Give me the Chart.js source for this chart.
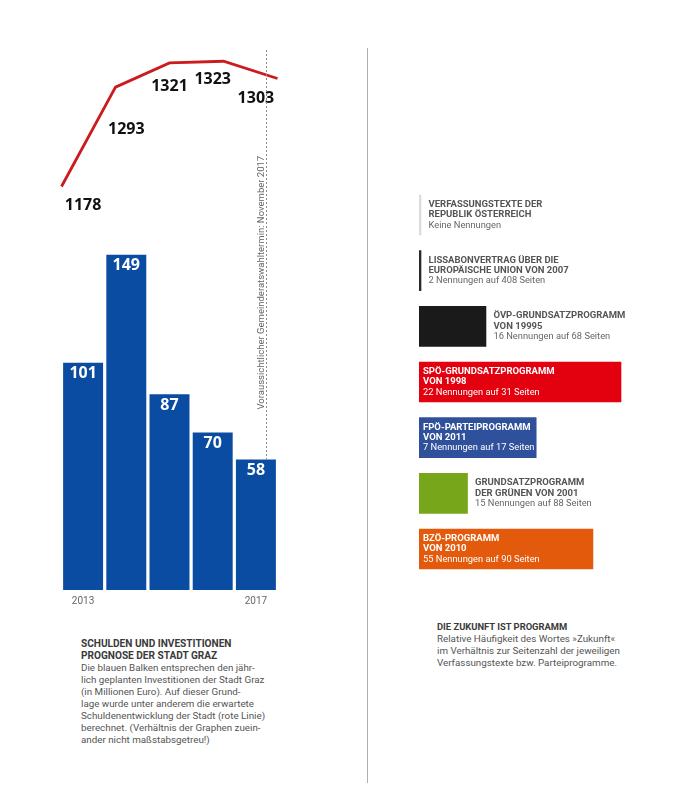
<!DOCTYPE html>
<html>
<head>
<meta charset="utf-8">
<script src="https://cdn.jsdelivr.net/npm/chart.js@4"></script>
<style>
    body { margin: 0; background: #fff; width: 678px; height: 800px; position: relative; overflow: hidden; font-family: Roboto, "Liberation Sans", sans-serif; }
    canvas { position: absolute; }
    .caption { position: absolute; font-size: 9.8px; line-height: 12px; color: #555; }
    .caption b { color: #3a3a3a; }
    .divider { position: absolute; left: 366.5px; top: 48px; width: 1.5px; height: 735px; background: #b0b0b0; }
</style>
</head>
<body>
<canvas id="left" width="340" height="620" style="left:0;top:0"></canvas>
<div class="divider"></div>
<canvas id="right" width="278" height="410" style="left:400px;top:180px"></canvas>

<div class="caption" style="left:81px;top:638px">
    <b style="font-size:10.1px">SCHULDEN UND INVESTITIONEN<br>PROGNOSE DER STADT GRAZ</b><br>
    Die blauen Balken entsprechen den jähr-<br>
    lich geplanten Investitionen der Stadt Graz<br>
    (in Millionen Euro). Auf dieser Grund-<br>
    lage wurde unter anderem die erwartete<br>
    Schuldenentwicklung der Stadt (rote Linie)<br>
    berechnet. (Verhältnis der Graphen zuein-<br>
    ander nicht maßstabsgetreu!)
</div>
<div class="caption" style="left:437px;top:621px">
    <b style="font-size:9.4px">DIE ZUKUNFT IST PROGRAMM</b><br>
    Relative Häufigkeit des Wortes »Zukunft«<br>
    im Verhältnis zur Seitenzahl der jeweiligen<br>
    Verfassungstexte bzw. Parteiprogramme.
</div>

<script>
    // Graz: Investitionen (Balken) und Schulden (Linie), Mio. Euro
    const jahre = ['2013', '2014', '2015', '2016', '2017']
    const investitionen = [101, 149, 87, 70, 58]
    const schulden = [1178, 1293, 1321, 1323, 1303]
    const wahlHinweis = 'Voraussichtlicher Gemeinderatswahltermin: November 2017'

    // Zukunft-Nennungen
    const titelZeile1 = ['VERFASSUNGSTEXTE DER', 'LISSABONVERTRAG ÜBER DIE', 'ÖVP-GRUNDSATZPROGRAMM', 'SPÖ-GRUNDSATZPROGRAMM', 'FPÖ-PARTEIPROGRAMM', 'GRUNDSATZPROGRAMM', 'BZÖ-PROGRAMM']
    const titelZeile2 = ['REPUBLIK ÖSTERREICH', 'EUROPÄISCHE UNION VON 2007', 'VON 19995', 'VON 1998', 'VON 2011', 'DER GRÜNEN VON 2001', 'VON 2010']
    const nennungen = [0, 2, 16, 22, 7, 15, 55]
    const seiten = [null, 408, 68, 31, 17, 88, 90]

    const numFont = 'bold 16px "Open Sans", sans-serif'

    const leftLabels = {
        id: 'leftLabels',
        afterDatasetsDraw(chart) {
            const ctx = chart.ctx
            const x = chart.scales.x
            const y = chart.scales.y
            const area = chart.chartArea
            const linePts = chart.getDatasetMeta(1).data
            const dy = [19, 42, 23, 18, 20]
            ctx.save()
            ctx.font = numFont
            ctx.textAlign = 'center'
            ctx.textBaseline = 'middle'
            investitionen.forEach((v, i) => {
                ctx.fillStyle = '#fff'
                ctx.fillText(v, x.getPixelForValue(i), y.getPixelForValue(v) + 11)
                ctx.fillStyle = '#111'
                ctx.fillText(schulden[i], x.getPixelForValue(i), linePts[i].y + dy[i])
            })
            // Wahltermin
            const last = investitionen.length - 1
            const lx = Math.round(x.getPixelForValue(last) + 10) + 0.5
            ctx.strokeStyle = '#888'
            ctx.lineWidth = 1
            ctx.setLineDash([2, 2])
            ctx.beginPath()
            ctx.moveTo(lx, area.top)
            ctx.lineTo(lx, y.getPixelForValue(investitionen[last]))
            ctx.stroke()
            ctx.setLineDash([])
            ctx.translate(lx - 5, y.getPixelForValue(investitionen[last]) - 50)
            ctx.rotate(-Math.PI / 2)
            ctx.font = '9.5px Roboto, sans-serif'
            ctx.fillStyle = '#666'
            ctx.textAlign = 'left'
            ctx.fillText(wahlHinweis, 0, 0)
            ctx.restore()
        }
    }

    new Chart(document.getElementById('left'), {
        type: 'bar',
        data: {
            labels: jahre,
            datasets: [{
                data: investitionen,
                backgroundColor: '#0a4ca1',
                xAxisID: 'x',
                yAxisID: 'y',
                grouped: false,
                barPercentage: 0.925,
                categoryPercentage: 1
            }, {
                type: 'line',
                data: schulden,
                borderColor: '#cc1b1e',
                borderWidth: 2.8,
                pointRadius: 0,
                tension: 0,
                clip: false,
                xAxisID: 'xl',
                yAxisID: 'y2'
            }]
        },
        options: {
            responsive: false,
            animation: false,
            layout: { padding: { left: 61.5, right: 62.5, top: 50, bottom: 8 } },
            plugins: { legend: { display: false }, tooltip: { enabled: false } },
            scales: {
                x: {
                    labels: jahre,
                    offset: true,
                    grid: { display: false, drawTicks: false },
                    border: { display: false },
                    ticks: {
                        padding: 5,
                        color: '#666',
                        font: { family: 'Roboto', size: 10 },
                        maxRotation: 0,
                        autoSkip: false,
                        callback: (v, i, t) => (i === 0 || i === t.length - 1) ? jahre[i] : ''
                    }
                },
                xl: { type: 'category', labels: jahre, offset: false, display: false },
                y: { display: false, min: 0, max: 240 },
                y2: { display: false, min: 711, max: 1336 }
            }
        },
        plugins: [leftLabels]
    })

    const quoten = nennungen.map((n, i) => seiten[i] ? n / seiten[i] : 0)

    const rightLabels = {
        id: 'rightLabels',
        afterDatasetsDraw(chart) {
            const ctx = chart.ctx
            const bars = chart.getDatasetMeta(0).data
            ctx.save()
            ctx.textBaseline = 'middle'
            ctx.textAlign = 'left'
            bars.forEach((bar, i) => {
                const zeile3 = nennungen[i] === 0 ? 'Keine Nennungen' : nennungen[i] + ' Nennungen auf ' + seiten[i] + ' Seiten'
                ctx.font = 'bold 9.5px Roboto, sans-serif'
                const w = Math.max(ctx.measureText(titelZeile1[i]).width, ctx.measureText(titelZeile2[i]).width)
                const inside = w + 4 < bar.x - bar.base
                const tx = inside ? bar.base + 4 : bar.x + 7.5
                ctx.fillStyle = inside ? '#fff' : '#555'
                ctx.fillText(titelZeile1[i], tx, bar.y - 10.3)
                ctx.fillText(titelZeile2[i], tx, bar.y)
                ctx.font = '9.3px Roboto, sans-serif'
                ctx.fillStyle = inside ? '#fff' : '#666'
                ctx.fillText(zeile3, tx, bar.y + 10.3)
            })
            ctx.restore()
        }
    }

    new Chart(document.getElementById('right'), {
        type: 'bar',
        data: {
            labels: titelZeile1,
            datasets: [{
                data: quoten,
                backgroundColor: ['#dcdcdc', '#2a2a2a', '#1a1a1a', '#e3000f', '#2f519b', '#78a61a', '#e45a0c'],
                barThickness: 40,
                minBarLength: 2
            }]
        },
        options: {
            indexAxis: 'y',
            responsive: false,
            animation: false,
            layout: { padding: { left: 19, right: 0, top: 7.2, bottom: 13.2 } },
            plugins: { legend: { display: false }, tooltip: { enabled: false } },
            scales: {
                x: { display: false, min: 0, max: 0.91 },
                y: { display: false }
            }
        },
        plugins: [rightLabels]
    })
</script>
</body>
</html>
